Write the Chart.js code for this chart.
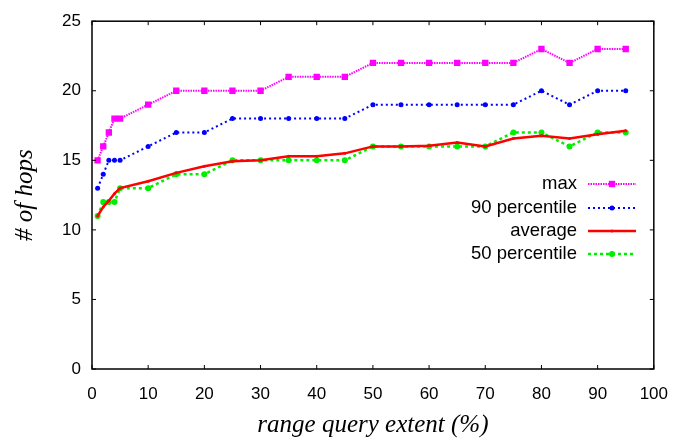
<!DOCTYPE html>
<html><head><meta charset="utf-8">
<script src="https://cdn.jsdelivr.net/npm/chart.js@4/dist/chart.umd.min.js"></script>
<style>html,body{margin:0;padding:0;background:#fff}#wrap{width:683px;height:440px}</style>
</head><body><div id="wrap"><canvas id="c" width="683" height="440"></canvas></div>
<script>
const extent = [1,2,3,4,5,10,15,20,25,30,35,40,45,50,55,60,65,70,75,80,85,90,95];
const maxHops = [15,16,17,18,18,19,20,20,20,20,21,21,21,22,22,22,22,22,22,23,22,23,23];
const p90Hops = [13,14,15,15,15,16,17,17,18,18,18,18,18,19,19,19,19,19,19,20,19,20,20];
const avgHops = [11,11.65,12.1,12.6,13,13.5,14.1,14.57,14.93,15,15.3,15.3,15.5,16,16,16.05,16.28,16,16.57,16.77,16.57,16.88,17.12];
const p50Hops = [11,12,12,12,13,13,14,14,15,15,15,15,15,16,16,16,16,16,17,17,16,17,17];
const seriesNames = ['max','90 percentile','average','50 percentile'];
const xTicks = [0,10,20,30,40,50,60,70,80,90,100];
const yTicks = [0,5,10,15,20,25];

const pts = arr => extent.map((x,i)=>({x:x,y:arr[i]}));

const legendPlugin = {
  id:'gpLegend',
  afterDatasetsDraw(chart){
    const ctx = chart.ctx;
    ctx.save();
    ctx.font = '18.5px "Liberation Sans", Arial, sans-serif';
    ctx.fillStyle = '#000';
    ctx.textAlign = 'right';
    ctx.textBaseline = 'middle';
    const rows = [184,208,231,254];
    chart.data.datasets.forEach((ds,i)=>{
      const y = rows[i];
      ctx.fillText(ds.label, 577, y);
      ctx.save();
      ctx.strokeStyle = ds.borderColor;
      ctx.lineWidth = ds.borderWidth;
      ctx.setLineDash(ds.borderDash || []);
      ctx.beginPath(); ctx.moveTo(588,y); ctx.lineTo(636,y); ctx.stroke();
      ctx.restore();
      ctx.fillStyle = ds.pointBackgroundColor;
      ctx.strokeStyle = ds.pointBackgroundColor;
      Chart.helpers.drawPoint(ctx,{pointStyle:ds.pointStyle,radius:ds.pointRadius,borderWidth:0,rotation:0},612,y);
      ctx.fillStyle = '#000';
    });
    ctx.restore();
  }
};

const framePlugin = {
  id:'gpFrame',
  afterDraw(chart){
    const {ctx, chartArea:a, scales} = chart;
    ctx.save();
    ctx.strokeStyle = '#000';
    ctx.lineWidth = 1.5;
    ctx.setLineDash([]);
    ctx.strokeRect(a.left, a.top, a.right-a.left, a.bottom-a.top);
    ctx.lineWidth = 1;
    const L = 4;
    ctx.beginPath();
    xTicks.forEach(v=>{
      const px = scales.x.getPixelForValue(v);
      ctx.moveTo(px,a.bottom); ctx.lineTo(px,a.bottom-L);
      ctx.moveTo(px,a.top); ctx.lineTo(px,a.top+L);
    });
    yTicks.forEach(v=>{
      const py = scales.y.getPixelForValue(v);
      ctx.moveTo(a.left,py); ctx.lineTo(a.left+L,py);
      ctx.moveTo(a.right,py); ctx.lineTo(a.right-L,py);
    });
    ctx.stroke();
    ctx.restore();
  }
};

new Chart(document.getElementById('c'),{
  type:'line',
  data:{datasets:[
    {label:seriesNames[0],data:pts(maxHops),borderColor:'#ff00ff',backgroundColor:'#ff00ff',pointBackgroundColor:'#ff00ff',borderWidth:2,borderDash:[1.5,1],pointStyle:'rect',pointRadius:4.5,pointBorderWidth:0},
    {label:seriesNames[1],data:pts(p90Hops),borderColor:'#0000ff',backgroundColor:'#0000ff',pointBackgroundColor:'#0000ff',borderWidth:2,borderDash:[2,3],pointStyle:'circle',pointRadius:2.5,pointBorderWidth:0},
    {label:seriesNames[2],data:pts(avgHops),borderColor:'#ff0000',backgroundColor:'#ff0000',pointBackgroundColor:'#ff0000',borderWidth:2.5,borderDash:[],pointStyle:'circle',pointRadius:1.5,pointBorderWidth:0},
    {label:seriesNames[3],data:pts(p50Hops),borderColor:'#00ee00',backgroundColor:'#00ee00',pointBackgroundColor:'#00ee00',borderWidth:2.5,borderDash:[3,3],pointStyle:'circle',pointRadius:3,pointBorderWidth:0}
  ]},
  options:{
    responsive:false,animation:false,
    layout:{padding:{top:20,right:28,left:0,bottom:0}},
    plugins:{legend:{display:false},tooltip:{enabled:false}},
    elements:{line:{tension:0}},
    scales:{
      x:{type:'linear',min:0,max:100,
        afterBuildTicks:s=>{s.ticks=xTicks.map(v=>({value:v}));},
        afterFit:s=>{s.height=71;},
        grid:{display:false,drawTicks:false},border:{display:false},
        ticks:{color:'#000',padding:15,maxRotation:0,font:{family:'"Liberation Sans", Arial, sans-serif',size:17}},
        title:{display:true,text:'range query extent (%)',color:'#000',padding:{top:0,bottom:0},font:{family:'"Liberation Serif", "Times New Roman", serif',style:'italic',size:25}}
      },
      y:{min:0,max:25,
        afterBuildTicks:s=>{s.ticks=yTicks.map(v=>({value:v}));},
        afterFit:s=>{s.width=92;},
        grid:{display:false,drawTicks:false},border:{display:false},
        ticks:{color:'#000',padding:11,font:{family:'"Liberation Sans", Arial, sans-serif',size:17}},
        title:{display:true,text:'# of hops',color:'#000',padding:{top:10,bottom:0},font:{family:'"Liberation Serif", "Times New Roman", serif',style:'italic',size:25}}
      }
    }
  },
  plugins:[legendPlugin,framePlugin]
});
</script></body></html>
